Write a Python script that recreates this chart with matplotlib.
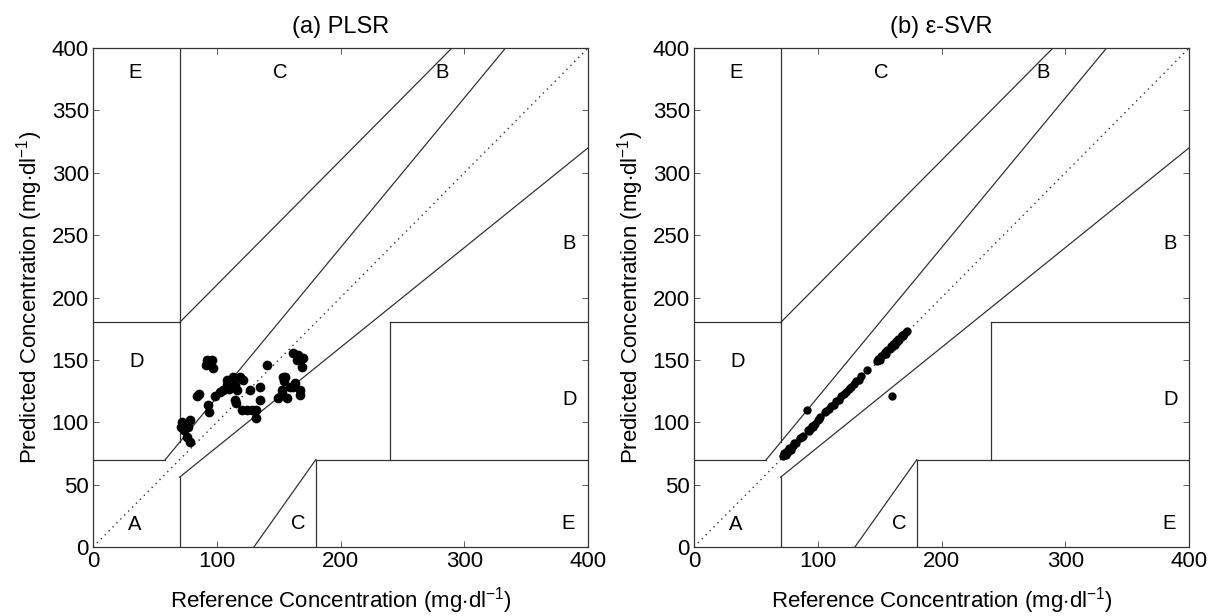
import matplotlib
matplotlib.use("Agg")
import matplotlib.pyplot as plt

plt.rcParams['font.family'] = ['Liberation Sans', 'DejaVu Sans']
plt.rcParams['mathtext.fontset'] = 'custom'
plt.rcParams['mathtext.rm'] = 'Liberation Sans'
plt.rcParams['mathtext.it'] = 'Liberation Sans'

# ---- data ----
plsr_ref = [71.7, 78.4, 73.5, 75.7, 78.4, 77.0, 71.0, 74.0,
            91.9, 95.9, 91.3, 96.7,
            84.3, 85.9, 93.2, 94.0, 98.6, 105.3, 108.0, 108.0,
            113.4, 118.8, 121.5, 114.7, 116.0, 114.7, 115.5,
            120.2, 124.2, 128.3, 132.0, 132.0, 126.9, 135.0, 135.0,
            140.3, 149.8, 152.4, 156.5, 153.8, 154.3,
            161.9, 165.9, 170.0, 164.6, 168.6, 163.2, 167.3, 159.2, 167.0,
            155.2, 161.9, 152.5, 110.0, 103.0]
plsr_pred = [100.4, 101.8, 93.8, 88.4, 84.4, 96.4, 96.0, 98.0,
             149.9, 150.0, 145.9, 143.2,
             121.0, 122.6, 113.8, 108.5, 121.0, 125.9, 133.9, 130.0,
             136.5, 136.5, 133.9, 130.0, 125.9, 117.8, 115.2,
             109.8, 109.8, 109.8, 109.8, 103.2, 125.9, 128.5, 117.8,
             145.9, 119.2, 123.2, 119.2, 136.5, 132.7,
             155.3, 153.9, 151.3, 150.0, 144.5, 131.2, 125.9, 128.5, 122.0,
             136.5, 128.5, 125.9, 127.0, 124.0]

svr_ref = [72, 73, 74, 75, 76, 77, 78, 80, 81, 82,
           86, 87, 88,
           92, 93, 94, 95, 96, 98, 100, 101, 102,
           106, 107, 109, 111, 113, 115, 117, 119, 121, 123, 125,
           127, 129, 131, 133, 135, 140,
           148, 149, 150, 151, 153, 154, 155, 156, 158, 159, 160,
           161, 162, 163, 164, 165, 166, 167, 168, 169, 170, 171, 172,
           91, 160]
svr_pred = [73, 75, 74, 77, 76, 79, 78, 81, 83, 83,
            87, 88, 89,
            94, 93, 95, 97, 96, 99, 102, 103, 104,
            108, 109, 111, 113, 114, 117, 118, 121, 123, 124, 127,
            128, 131, 133, 134, 137, 142,
            149, 151, 150, 153, 154, 156, 155, 158, 159, 161, 160,
            163, 162, 165, 164, 167, 166, 168, 170, 169, 171, 172, 173,
            110, 121]

titles = ['(a) PLSR', '(b) ε-SVR']
x_ticks = [0, 100, 200, 300, 400]
y_ticks = [0, 50, 100, 150, 200, 250, 300, 350, 400]

# Clarke error grid boundaries
grid_lines = [
    ([0, 175/3], [70, 70]),
    ([175/3, 400/1.2], [70, 400]),
    ([70, 70], [84, 400]),
    ([0, 70], [180, 180]),
    ([70, 290], [180, 400]),
    ([70, 70], [0, 56]),
    ([70, 400], [56, 320]),
    ([180, 180], [0, 70]),
    ([180, 400], [70, 70]),
    ([240, 240], [70, 180]),
    ([240, 400], [180, 180]),
    ([130, 180], [0, 70]),
]
zone_labels = [('A', 34, 18), ('B', 385, 243), ('B', 282, 380),
               ('C', 151, 380), ('C', 166, 19), ('D', 35, 149),
               ('D', 385, 118), ('E', 34, 380), ('E', 384, 19)]

fig = plt.figure(figsize=(12.11, 6.16), dpi=100)
positions = [[0.0768, 0.112, 0.4088, 0.810], [0.5731, 0.112, 0.4088, 0.810]]
datasets = [(plsr_ref, plsr_pred, 7.0), (svr_ref, svr_pred, 6.0)]

for pos, title, (xr, yp, ms) in zip(positions, titles, datasets):
    ax = fig.add_axes(pos)
    ax.plot([0, 400], [0, 400], linestyle=(0, (1, 3)), color='#333333', lw=1.0)
    for xs, ys in grid_lines:
        ax.plot(xs, ys, color='#333333', lw=0.9)
    ax.plot(xr, yp, 'o', color='black', markersize=ms, markeredgewidth=0)
    for t, x, y in zone_labels:
        ax.text(x, y, t, fontsize=14.5, ha='center', va='center')
    ax.set_xlim(0, 400)
    ax.set_ylim(0, 400)
    ax.set_xticks(x_ticks)
    ax.set_yticks(y_ticks)
    ax.tick_params(direction='in', top=True, right=True, length=4,
                   labelsize=16, width=0.6, colors='#444444',
                   labelcolor='black', pad=3)
    for s in ax.spines.values():
        s.set_color('#333333')
        s.set_linewidth(0.9)
    ax.set_title(title, fontsize=17, pad=11)
    ax.set_xlabel('Reference Concentration (mg$\\cdot$dl$^{-1}$)', fontsize=16, labelpad=9)
    ax.set_ylabel('Predicted Concentration (mg$\\cdot$dl$^{-1}$)', fontsize=16, labelpad=5)

fig.savefig('out.png', dpi=100)
